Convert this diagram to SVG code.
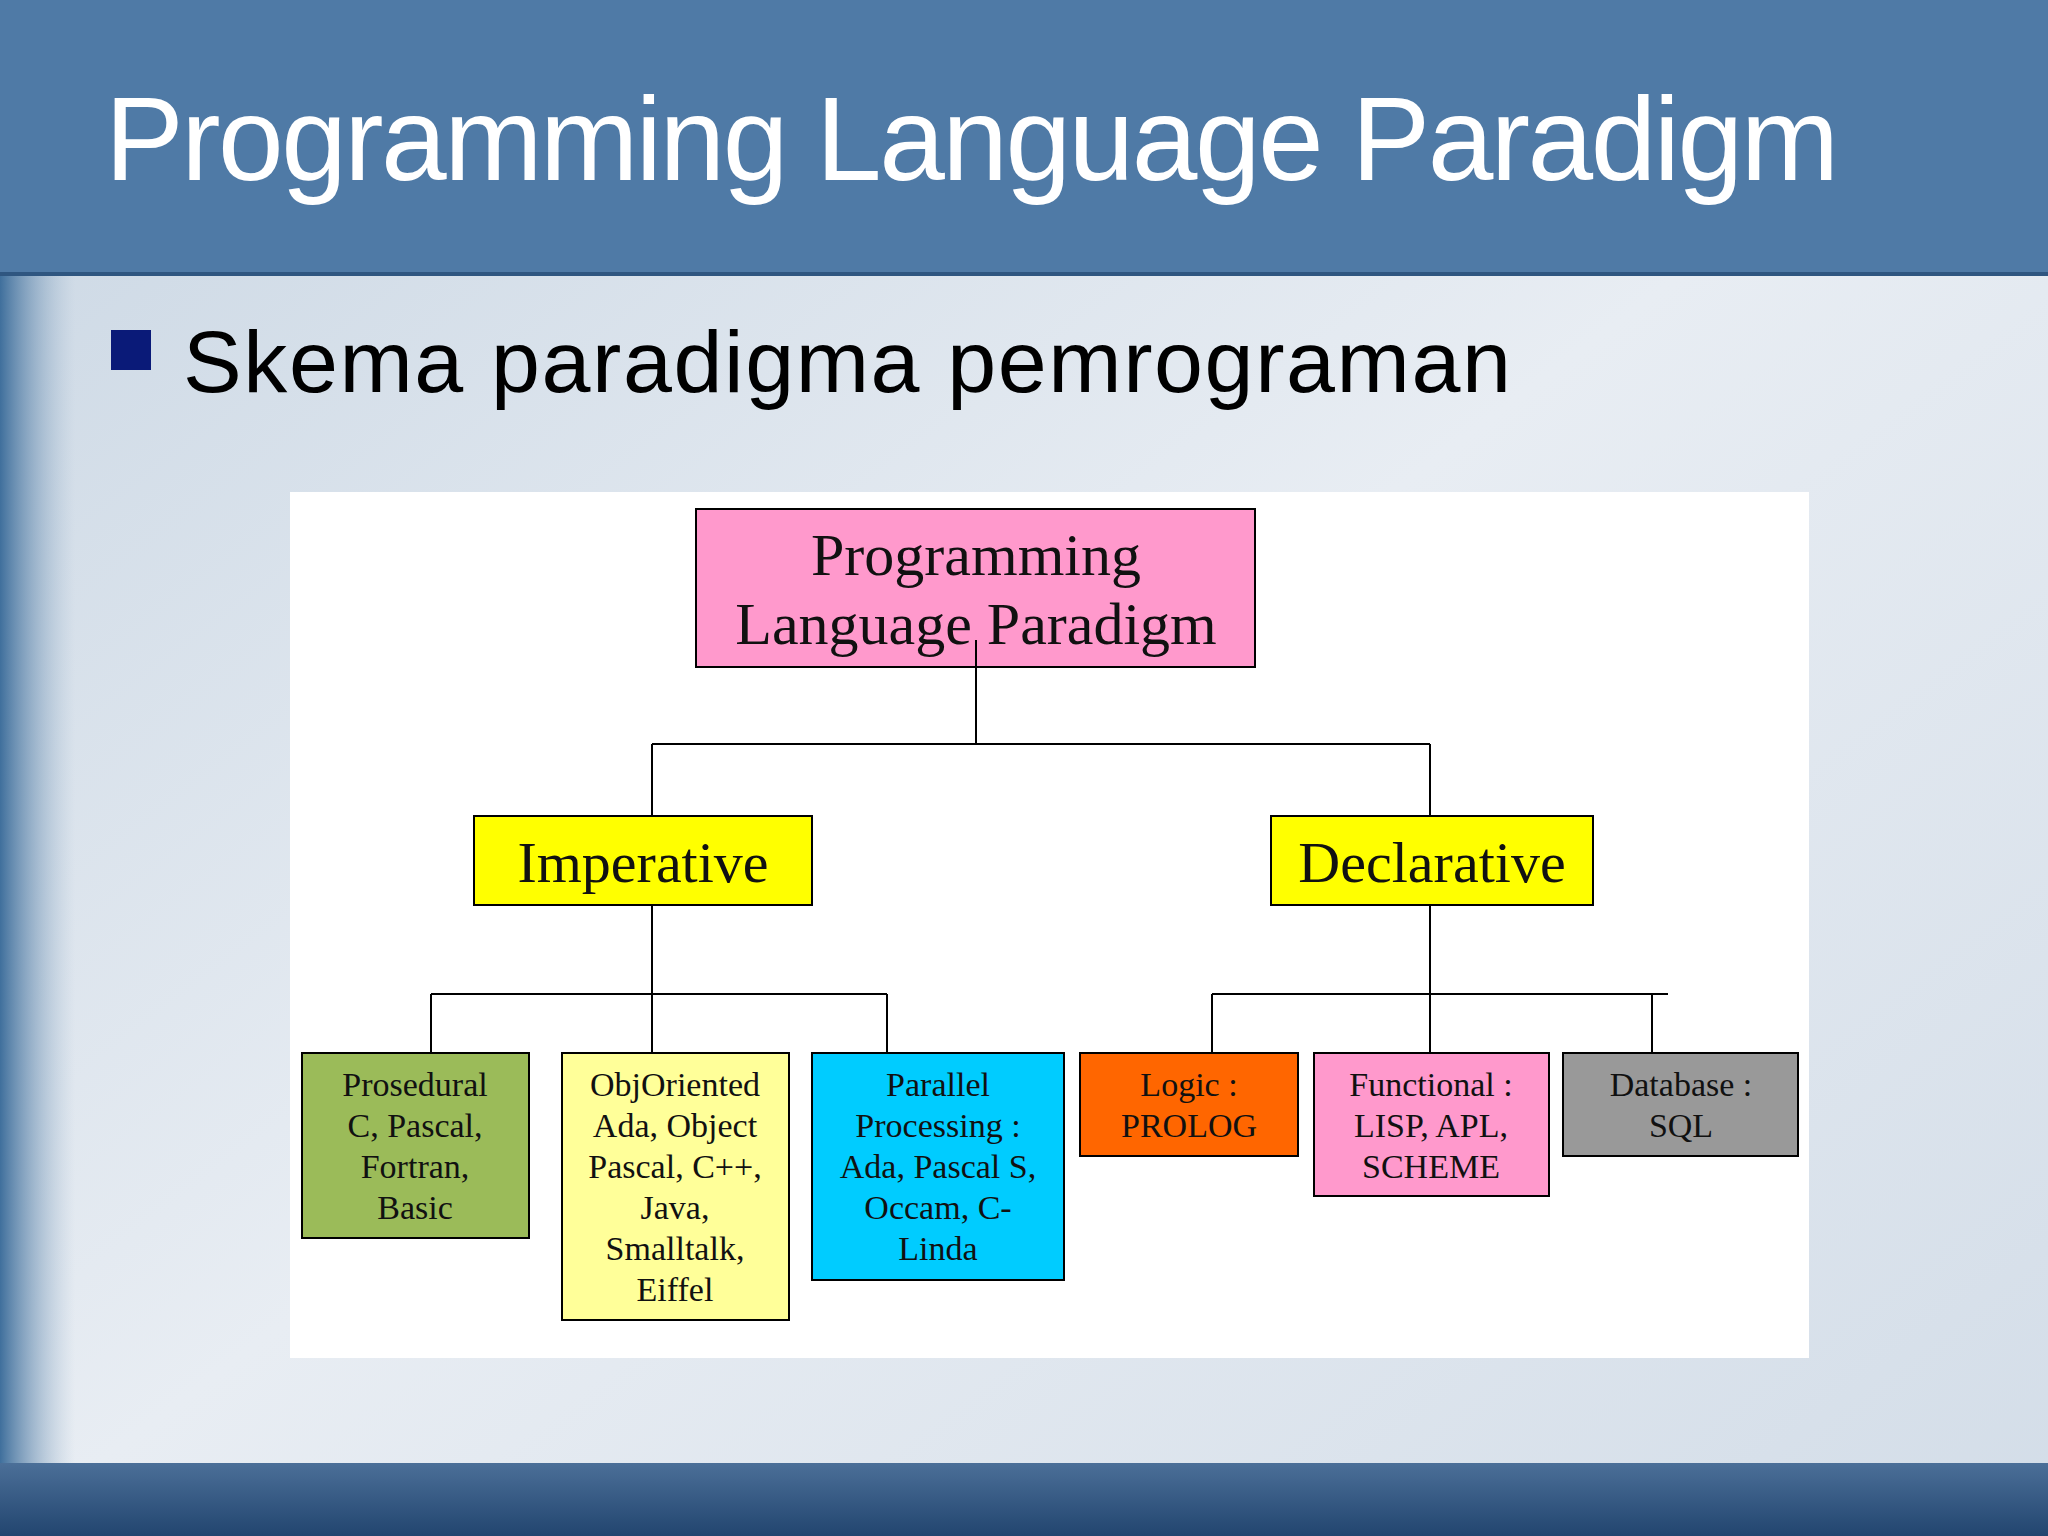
<svg xmlns="http://www.w3.org/2000/svg" width="2048" height="1536" viewBox="0 0 2048 1536">
<defs>
<linearGradient id="bg" x1="0" y1="0" x2="1" y2="1"><stop offset="0" stop-color="#c9d6e3"/><stop offset="0.5" stop-color="#e8edf3"/><stop offset="1" stop-color="#d3dde8"/></linearGradient>
<linearGradient id="left" x1="0" y1="0" x2="1" y2="0"><stop offset="0" stop-color="#3f6f9c"/><stop offset="1" stop-color="#9db5cc" stop-opacity="0"/></linearGradient>
<linearGradient id="bot" x1="0" y1="0" x2="0" y2="1"><stop offset="0" stop-color="#4b6f98"/><stop offset="1" stop-color="#22456f"/></linearGradient>
<style>
.box{stroke:#000;stroke-width:2}
.t{font-family:"Liberation Serif",serif;text-anchor:middle;fill:#111}
.leaf{font-size:34px}
.mid{font-size:58px}
.con{stroke:#000;stroke-width:2;fill:none}
</style>
</defs>
<rect width="2048" height="1536" fill="url(#bg)"/>
<rect x="0" y="274" width="75" height="1190" fill="url(#left)"/>
<rect x="0" y="1463" width="2048" height="73" fill="url(#bot)"/>
<rect x="0" y="0" width="2048" height="274" fill="#4f7aa6"/>
<rect x="0" y="272" width="2048" height="4" fill="#2f5680"/>
<text x="105" y="180" font-family="Liberation Sans,Arial,sans-serif" font-size="118" fill="#fff" textLength="1734">Programming Language Paradigm</text>
<rect x="111" y="330" width="40" height="40" fill="#0a1a78"/>
<text x="183" y="392" font-family="Liberation Sans,Arial,sans-serif" font-size="88" fill="#000" textLength="1328">Skema paradigma pemrograman</text>
<rect x="290" y="492" width="1519" height="866" fill="#fff"/>
<g id="root"><rect class="box" x="696" y="509" width="559" height="158" fill="#ff99cc"/>
<text class="t" x="976" y="575" font-size="60">Programming</text><text class="t" x="976" y="644" font-size="60">Language Paradigm</text></g>
<g id="connectors">
<path class="con" d="M976 640V744M652 744H1430M652 744V816M1430 744V816"/>
<path class="con" d="M652 905V1053M431 994H887M431 994V1053M887 994V1053"/>
<path class="con" d="M1430 905V1065M1212 994H1668M1212 994V1053M1652 994V1053"/>
</g>
<g id="imperative"><rect class="box" x="474" y="816" width="338" height="89" fill="#ffff00"/><text class="t mid" x="643" y="882">Imperative</text></g>
<g id="declarative"><rect class="box" x="1271" y="816" width="322" height="89" fill="#ffff00"/><text class="t mid" x="1432" y="882">Declarative</text></g>
<g id="prosedural"><rect class="box" x="302" y="1053" width="227" height="185" fill="#9bbb59"/>
<text class="t leaf"><tspan x="415" y="1096">Prosedural</tspan><tspan x="415" y="1137">C, Pascal,</tspan><tspan x="415" y="1178">Fortran,</tspan><tspan x="415" y="1219">Basic</tspan></text></g>
<g id="objoriented"><rect class="box" x="562" y="1053" width="227" height="267" fill="#ffff99"/>
<text class="t leaf"><tspan x="675" y="1096">ObjOriented</tspan><tspan x="675" y="1137">Ada, Object</tspan><tspan x="675" y="1178">Pascal, C++,</tspan><tspan x="675" y="1219">Java,</tspan><tspan x="675" y="1260">Smalltalk,</tspan><tspan x="675" y="1301">Eiffel</tspan></text></g>
<g id="parallel"><rect class="box" x="812" y="1053" width="252" height="227" fill="#00ccff"/>
<text class="t leaf"><tspan x="938" y="1096">Parallel</tspan><tspan x="938" y="1137">Processing :</tspan><tspan x="938" y="1178">Ada, Pascal S,</tspan><tspan x="938" y="1219">Occam, C-</tspan><tspan x="938" y="1260">Linda</tspan></text></g>
<g id="logic"><rect class="box" x="1080" y="1053" width="218" height="103" fill="#ff6600"/>
<text class="t leaf"><tspan x="1189" y="1096">Logic :</tspan><tspan x="1189" y="1137">PROLOG</tspan></text></g>
<g id="functional"><rect class="box" x="1314" y="1053" width="235" height="143" fill="#ff99cc"/>
<text class="t leaf"><tspan x="1431" y="1096">Functional :</tspan><tspan x="1431" y="1137">LISP, APL,</tspan><tspan x="1431" y="1178">SCHEME</tspan></text></g>
<g id="database"><rect class="box" x="1563" y="1053" width="235" height="103" fill="#999999"/>
<text class="t leaf"><tspan x="1681" y="1096">Database :</tspan><tspan x="1681" y="1137">SQL</tspan></text></g>
</svg>
